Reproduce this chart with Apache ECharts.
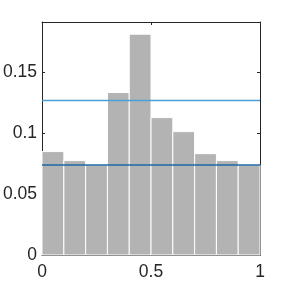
<!DOCTYPE html>
<html><head><meta charset="utf-8">
<script src="https://cdn.jsdelivr.net/npm/echarts@6/dist/echarts.min.js"></script>
<style>html,body{margin:0;padding:0;background:#fff}#c{width:288px;height:288px}</style>
</head><body><div id="c"></div>
<script>
const binEdges = [0, 0.1, 0.2, 0.3, 0.4, 0.5, 0.6, 0.7, 0.8, 0.9, 1.0];
const binValues = [0.0849, 0.0775, 0.0739, 0.1334, 0.1813, 0.1128, 0.1013, 0.0832, 0.0775, 0.0739];
const upperLine = 0.1268;
const lowerLine = 0.0739;
const xTicks = [0, 0.5, 1];
const yTicks = [0, 0.05, 0.1, 0.15];
const yMax = 0.1913;

const barData = binValues.map((v, i) => [binEdges[i], binEdges[i + 1], v]);
const fmtY = v => { const r = Math.round(v * 1000) / 1000; return yTicks.some(t => Math.abs(t - r) < 1e-9) ? String(r) : ''; };
const fmtX = v => xTicks.some(t => Math.abs(t - v) < 1e-9) ? String(v) : '';
const font = {fontFamily: 'Liberation Sans, Arial, sans-serif', fontSize: 17.5, color: '#262626'};

const chart = echarts.init(document.getElementById('c'), null, {renderer: 'canvas'});
chart.setOption({
  animation: false,
  grid: {left: 39, right: 28, top: 22, bottom: 33, containLabel: false},
  xAxis: [
    {type: 'value', min: 0, max: 1, interval: 0.5, position: 'bottom',
     axisLine: {show: true, lineStyle: {color: '#262626', width: 1}},
     axisTick: {show: true, inside: true, length: 3, lineStyle: {color: '#262626'}},
     axisLabel: Object.assign({margin: 8, formatter: fmtX}, font),
     splitLine: {show: false}},
    {type: 'value', min: 0, max: 1, interval: 0.5, position: 'top',
     axisLine: {show: true, onZero: false, lineStyle: {color: '#262626', width: 1}},
     axisTick: {show: true, inside: true, length: 3, lineStyle: {color: '#262626'}},
     axisLabel: {show: false}, splitLine: {show: false}}
  ],
  yAxis: [
    {type: 'value', min: 0, max: yMax, interval: 0.05, position: 'left',
     axisLine: {show: true, lineStyle: {color: '#262626', width: 1}},
     axisTick: {show: true, inside: true, length: 3, lineStyle: {color: '#262626'}},
     axisLabel: Object.assign({margin: 5, formatter: fmtY, showMaxLabel: false}, font),
     splitLine: {show: false}},
    {type: 'value', min: 0, max: yMax, interval: 0.05, position: 'right',
     axisLine: {show: true, onZero: false, lineStyle: {color: '#262626', width: 1}},
     axisTick: {show: true, inside: true, length: 3, lineStyle: {color: '#262626'}},
     axisLabel: {show: false}, splitLine: {show: false}}
  ],
  series: [
    {type: 'custom', xAxisIndex: 0, yAxisIndex: 0, data: barData,
     renderItem: function (params, api) {
       const p0 = api.coord([api.value(0), 0]);
       const p1 = api.coord([api.value(1), api.value(2)]);
       return {type: 'rect',
         shape: {x: p0[0], y: p1[1], width: p1[0] - p0[0], height: p0[1] - p1[1]},
         style: {fill: '#b3b3b3', stroke: '#ffffff', lineWidth: 1}};
     }, z: 2},
    {type: 'line', xAxisIndex: 0, yAxisIndex: 0, data: [[0, upperLine], [1, upperLine]],
     symbol: 'none', lineStyle: {color: '#4d9ed8', width: 1.5}, z: 3},
    {type: 'line', xAxisIndex: 0, yAxisIndex: 0, data: [[0, lowerLine], [1, lowerLine]],
     symbol: 'none', lineStyle: {color: '#1f67a6', width: 1.5}, z: 3}
  ]
});
</script></body></html>
